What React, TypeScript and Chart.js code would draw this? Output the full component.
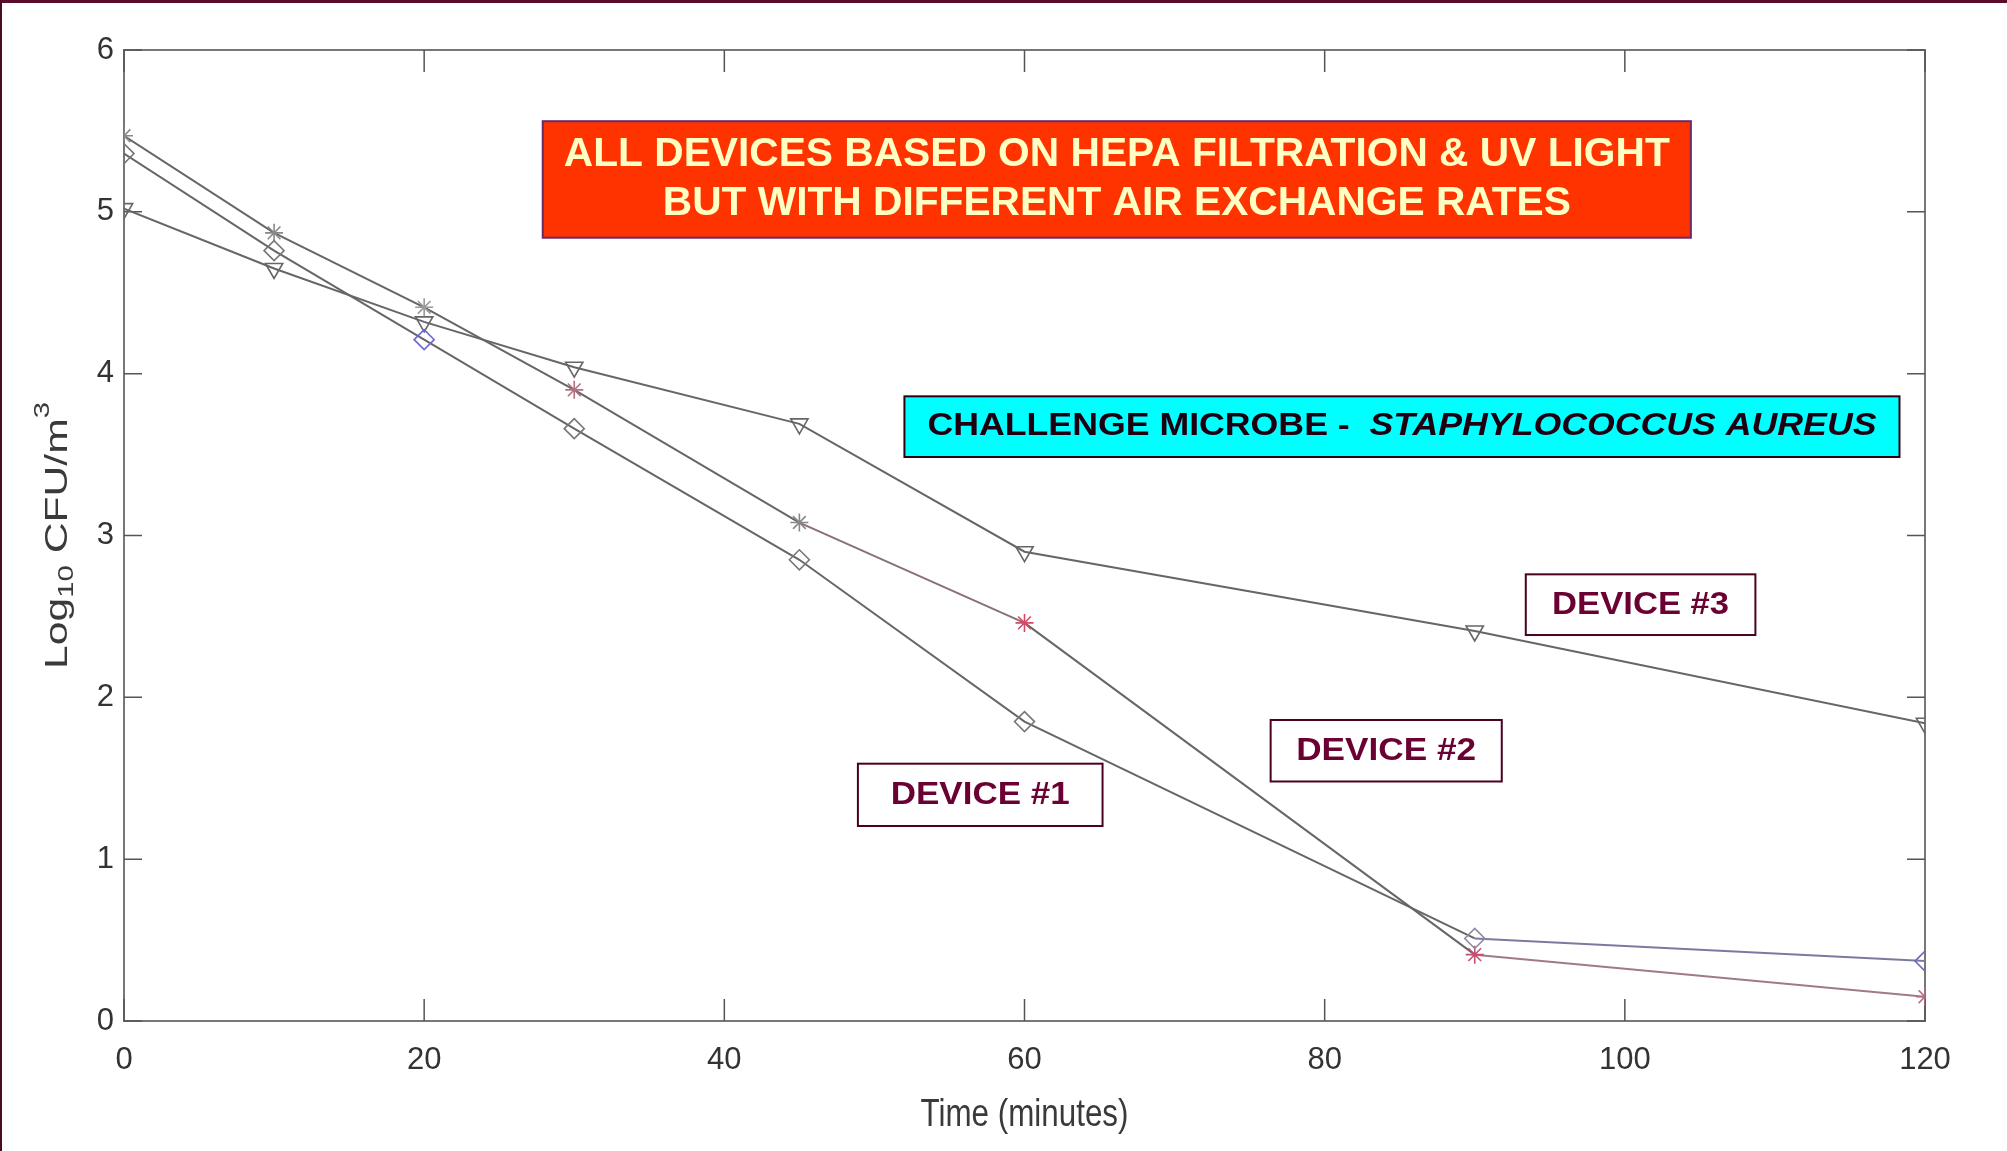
import React, { useEffect, useRef } from "react";
import { Chart, registerables } from "chart.js";

Chart.register(...registerables);

// ---- data ----
const minutes = [0, 10, 20, 30, 45, 60, 90, 120];
const device1 = [5.36, 4.76, 4.21, 3.66, 2.85, 1.85, 0.51, 0.37];
const device2 = [5.47, 4.87, 4.41, 3.9, 3.08, 2.46, 0.41, 0.15];
const device3 = [5.02, 4.65, 4.32, 4.04, 3.69, 2.9, 2.41, 1.84];
const xTickValues = [0, 20, 40, 60, 80, 100, 120];
const yTickValues = [0, 1, 2, 3, 4, 5, 6];

const FONT = '"Liberation Sans", Arial, Helvetica, sans-serif';
const LINE = "#666666";

type Run = { text: string; font: string; dy?: number };
type Box = {
  x0: number; x1: number; y0: number; y1: number;
  fill: string; stroke: string; color: string;
  lines: Run[][]; widths: number[]; spacing: number;
};

const boxes: Box[] = [
  {
    x0: 27.9, x1: 104.4, y0: 5.56, y1: 4.84,
    fill: "#FF3300", stroke: "#6a2a6a", color: "#FFFFC4",
    lines: [
      [{ text: "ALL DEVICES BASED ON HEPA FILTRATION & UV LIGHT", font: `bold 40px ${FONT}` }],
      [{ text: "BUT WITH DIFFERENT AIR EXCHANGE RATES", font: `bold 40px ${FONT}` }],
    ],
    widths: [1106, 908], spacing: 49,
  },
  {
    x0: 52.0, x1: 118.3, y0: 3.86, y1: 3.485,
    fill: "#00FFFF", stroke: "#300010", color: "#1e0010",
    lines: [[
      { text: "CHALLENGE MICROBE -  ", font: `bold 31px ${FONT}` },
      { text: "STAPHYLOCOCCUS AUREUS", font: `italic bold 31px ${FONT}` },
    ]],
    widths: [949], spacing: 0,
  },
  {
    x0: 93.4, x1: 108.7, y0: 2.76, y1: 2.385,
    fill: "#FFFFFF", stroke: "#4a0020", color: "#6B0032",
    lines: [[{ text: "DEVICE #3", font: `bold 32px ${FONT}` }]],
    widths: [177], spacing: 0,
  },
  {
    x0: 76.4, x1: 91.8, y0: 1.86, y1: 1.48,
    fill: "#FFFFFF", stroke: "#4a0020", color: "#6B0032",
    lines: [[{ text: "DEVICE #2", font: `bold 32px ${FONT}` }]],
    widths: [180], spacing: 0,
  },
  {
    x0: 48.9, x1: 65.2, y0: 1.59, y1: 1.205,
    fill: "#FFFFFF", stroke: "#4a0020", color: "#6B0032",
    lines: [[{ text: "DEVICE #1", font: `bold 32px ${FONT}` }]],
    widths: [179], spacing: 0,
  },
];

function drawRuns(ctx: CanvasRenderingContext2D, runs: Run[], cx: number, cy: number, target: number) {
  let total = 0;
  for (const r of runs) { ctx.font = r.font; total += ctx.measureText(r.text).width; }
  const sx = target / total;
  ctx.save();
  ctx.translate(cx, cy);
  ctx.scale(sx, 1);
  ctx.textBaseline = "middle";
  ctx.textAlign = "left";
  let x = -total / 2;
  for (const r of runs) {
    ctx.font = r.font;
    ctx.fillText(r.text, x, r.dy || 0);
    x += ctx.measureText(r.text).width;
  }
  ctx.restore();
}

const decorPlugin = {
  id: "decor",
  beforeDraw(chart: any) {
    const { ctx, width, height } = chart;
    ctx.save();
    ctx.fillStyle = "#ffffff";
    ctx.fillRect(0, 0, width, height);
    ctx.fillStyle = "#5a0c2a";
    ctx.fillRect(0, 0, width, 3);
    ctx.fillStyle = "#4a0a22";
    ctx.fillRect(0, 0, 2, height);
    ctx.restore();
  },
  beforeDatasetsDraw(chart: any) {
    const { ctx, chartArea: a, scales } = chart;
    ctx.save();
    ctx.strokeStyle = "#777777";
    ctx.lineWidth = 2;
    ctx.strokeRect(a.left, a.top, a.right - a.left, a.bottom - a.top);
    ctx.strokeStyle = "#555555";
    ctx.lineWidth = 1.5;
    ctx.beginPath();
    for (const t of scales.x.ticks) {
      const px = scales.x.getPixelForValue(t.value);
      ctx.moveTo(px, a.bottom); ctx.lineTo(px, a.bottom - 22);
      ctx.moveTo(px, a.top); ctx.lineTo(px, a.top + 22);
    }
    for (const t of scales.y.ticks) {
      const py = scales.y.getPixelForValue(t.value);
      ctx.moveTo(a.left, py); ctx.lineTo(a.left + 18, py);
      ctx.moveTo(a.right, py); ctx.lineTo(a.right - 18, py);
    }
    ctx.stroke();
    ctx.restore();
  },
  afterDatasetsDraw(chart: any) {
    const { ctx, chartArea: a, scales } = chart;
    const xs = scales.x, ys = scales.y;
    ctx.save();
    for (const b of boxes) {
      const l = xs.getPixelForValue(b.x0), r = xs.getPixelForValue(b.x1);
      const t = ys.getPixelForValue(b.y0), bt = ys.getPixelForValue(b.y1);
      ctx.fillStyle = b.fill;
      ctx.fillRect(l, t, r - l, bt - t);
      ctx.strokeStyle = b.stroke;
      ctx.lineWidth = 2;
      ctx.strokeRect(l, t, r - l, bt - t);
      ctx.fillStyle = b.color;
      const cx = (l + r) / 2, cy = (t + bt) / 2;
      const n = b.lines.length;
      b.lines.forEach((runs, i) => {
        const y = cy + (i - (n - 1) / 2) * b.spacing;
        drawRuns(ctx, runs, cx, y, b.widths[i]);
      });
    }
    // x axis title
    ctx.fillStyle = "#3a3a3a";
    drawRuns(ctx, [{ text: "Time (minutes)", font: `38px ${FONT}` }], (a.left + a.right) / 2, 1116, 208);
    // y axis title (rotated, with subscript and superscript)
    const runs: Run[] = [
      { text: "Log", font: `32px ${FONT}` },
      { text: "10", font: `22px ${FONT}`, dy: 9 },
      { text: " CFU/m", font: `32px ${FONT}` },
      { text: "3", font: `22px ${FONT}`, dy: -15 },
    ];
    let total = 0;
    for (const r of runs) { ctx.font = r.font; total += ctx.measureText(r.text).width; }
    const k = 267 / total;
    ctx.save();
    ctx.translate(58, (a.top + a.bottom) / 2);
    ctx.scale(1, k);
    ctx.rotate(-Math.PI / 2);
    ctx.textBaseline = "middle";
    let x = -total / 2;
    for (const r of runs) {
      ctx.font = r.font;
      ctx.fillText(r.text, x, r.dy || 0);
      x += ctx.measureText(r.text).width;
    }
    ctx.restore();
    ctx.restore();
  },
};

function pts(values: number[]) {
  return minutes.map((m, i) => ({ x: m, y: values[i] }));
}

export default function App() {
  const ref = useRef<HTMLCanvasElement | null>(null);
  useEffect(() => {
    document.body.style.margin = "0";
    const canvas = ref.current!;
    const chart = new Chart(canvas, {
      type: "line",
      data: {
        datasets: [
          {
            label: "Device #1",
            data: pts(device1),
            borderColor: LINE,
            borderWidth: 2,
            pointStyle: "rectRot",
            pointRadius: 10,
            pointBorderWidth: 1.6,
            pointBackgroundColor: "rgba(255,255,255,0)",
            pointBorderColor: ["#777", "#777", "#6a6ad0", "#777", "#777", "#777", "#8a8aa8", "#6a6ab8"],
            segment: { borderColor: (c: any) => (c.p1DataIndex === 7 ? "#7a7aa0" : LINE) },
          },
          {
            label: "Device #2",
            data: pts(device2),
            borderColor: LINE,
            borderWidth: 2,
            pointStyle: "star",
            pointRadius: 9,
            pointBorderWidth: 1.6,
            pointBackgroundColor: "rgba(255,255,255,0)",
            pointBorderColor: ["#888", "#888", "#999", "#b07080", "#888", "#d04a6a", "#c05070", "#b07080"],
            segment: {
              borderColor: (c: any) =>
                c.p1DataIndex === 7 ? "#a07a84" : c.p1DataIndex === 5 ? "#8a7078" : LINE,
            },
          },
          {
            label: "Device #3",
            data: pts(device3),
            borderColor: LINE,
            borderWidth: 2,
            pointStyle: "triangle",
            pointRotation: 180,
            pointRadius: 10,
            pointBorderWidth: 1.6,
            pointBackgroundColor: "rgba(255,255,255,0)",
            pointBorderColor: "#666",
          },
        ],
      },
      options: {
        responsive: false,
        maintainAspectRatio: false,
        devicePixelRatio: 1,
        animation: false,
        layout: { padding: { top: 50, right: 82, left: 0, bottom: 0 } },
        plugins: { legend: { display: false }, tooltip: { enabled: false } },
        scales: {
          x: {
            type: "linear",
            min: 0,
            max: 120,
            grid: { display: false, drawTicks: false },
            border: { display: false },
            afterBuildTicks: (s: any) => { s.ticks = xTickValues.map((v) => ({ value: v })); },
            afterFit: (s: any) => { s.height = 130; },
            ticks: {
              padding: 21,
              maxRotation: 0,
              color: "#333",
              font: { family: FONT, size: 31 },
            },
          },
          y: {
            type: "linear",
            min: 0,
            max: 6,
            grid: { display: false, drawTicks: false },
            border: { display: false },
            afterBuildTicks: (s: any) => { s.ticks = yTickValues.map((v) => ({ value: v })); },
            afterFit: (s: any) => { s.width = 124; },
            ticks: {
              padding: 10,
              color: "#333",
              font: { family: FONT, size: 31 },
            },
          },
        },
      },
      plugins: [decorPlugin],
    } as any);
    return () => chart.destroy();
  }, []);
  return (
    <div style={{ width: 2007, height: 1151 }}>
      <canvas ref={ref} width={2007} height={1151} style={{ display: "block" }} />
    </div>
  );
}
